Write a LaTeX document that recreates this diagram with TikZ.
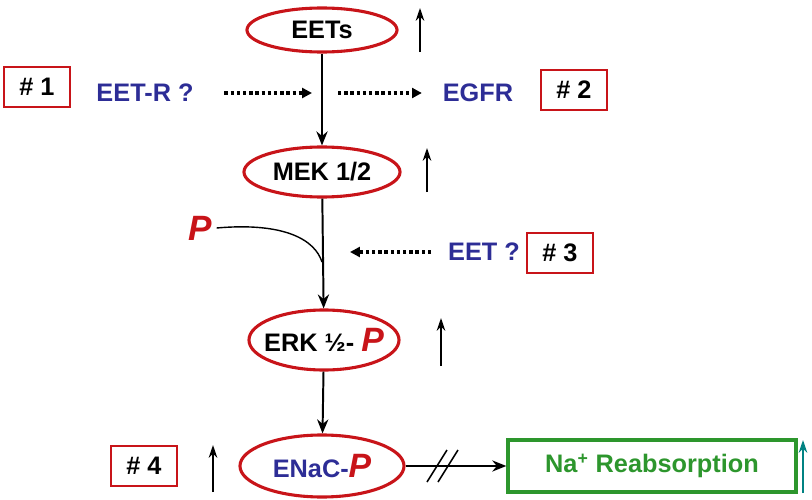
\documentclass[tikz,border=0pt]{standalone}
\usepackage{fontspec}
\setmainfont{Liberation Sans}
\usetikzlibrary{shapes.geometric,arrows.meta}

\definecolor{ovalred}{RGB}{200,20,25}
\definecolor{protblue}{RGB}{45,45,150}
\definecolor{naGreen}{RGB}{45,150,45}
\definecolor{tealup}{RGB}{0,130,130}

\tikzset{
  oval/.style={ellipse, draw=ovalred, line width=2.2pt, inner sep=0pt},
  numbox/.style={rectangle, draw=ovalred, line width=1.8pt, minimum width=1.65cm, minimum height=1cm},
  flow/.style={-{Stealth[length=10pt,width=8pt]}, line width=1.4pt},
  up/.style={-{Stealth[length=9pt,width=6pt]}, line width=1.2pt},
  guess/.style={-{Triangle[length=7pt,width=7pt]}, line width=2.4pt, dotted},
  lbl/.style={font=\fontsize{18}{21}\selectfont\bfseries}
}
\newcommand{\phos}{\textcolor{ovalred}{\itshape P}}

\begin{document}
\begin{tikzpicture}[x=0.025cm, y=-0.025cm]
  \useasboundingbox (0,0) rectangle (812,500);

  % pathway ovals
  \node[oval, lbl, minimum width=3.75cm, minimum height=1.1cm] (eets) at (322, 30) {EETs};
  \node[oval, lbl, minimum width=3.9cm, minimum height=1.25cm] (mek) at (322, 172) {MEK 1/2};
  \node[oval, lbl, inner xsep=-9pt, minimum width=3.75cm, minimum height=1.5cm] (erk) at (324, 340) {ERK \textonehalf- {\fontsize{24}{26}\selectfont\phos}};
  \node[oval, lbl, minimum width=4.1cm, minimum height=1.55cm] (enac) at (322, 466) {\textcolor{protblue}{ENaC-}{\fontsize{24}{26}\selectfont\phos}};

  % numbered boxes
  \node[numbox, lbl] (n1) at (37, 87) {\# 1};
  \node[numbox, lbl] (n2) at (574, 90) {\# 2};
  \node[numbox, lbl] (n3) at (560, 253) {\# 3};
  \node[numbox, lbl] (n4) at (144, 466) {\# 4};

  % side labels
  \node[lbl, text=protblue] (eetr) at (145, 93) {EET-R ?};
  \node[lbl, text=protblue] (egfr) at (478, 93) {EGFR};
  \node[lbl, text=protblue] (eetq) at (484, 252) {EET ?};
  \node[text=ovalred, font=\fontsize{25}{27}\selectfont\bfseries\itshape] (pin) at (200, 228) {P};
  \node[rectangle, draw=naGreen, line width=2.4pt, minimum width=7.2cm, minimum height=1.3cm,
        lbl, text=naGreen] (na) at (652, 466) {Na\textsuperscript{+} Reabsorption};

  % main cascade
  \draw[flow] (eets) -- (mek);
  \draw[flow] (mek) -- (erk);
  \draw[flow] (erk) -- (enac);
  \coordinate (jn1) at (322, 93);
  \coordinate (jn2) at (322, 262);
  \draw[line width=1pt] (pin.east) .. controls (285, 222) and (315, 240) .. (jn2);

  % dotted inputs
  \draw[guess] (eetr.east) ++(26,0) -- ([xshift=-0.25cm]jn1);
  \draw[guess] ([xshift=0.4cm]jn1) -- ([xshift=-0.4cm]egfr.west);
  \draw[guess] ([xshift=-0.3cm]eetq.west) -- ([xshift=0.7cm]jn2 |- eetq);

  % blocked arrow
  \draw[flow, line width=1.1pt] (enac) -- (na);
  \draw[line width=1.1pt] (427, 482) -- (447, 450);
  \draw[line width=1.1pt] (438, 482) -- (458, 450);

  % up arrows
  \draw[up] (420, 52) -- (420, 8);
  \draw[up] (427, 192) -- (427, 148);
  \draw[up] (441, 366) -- (441, 318);
  \draw[up] (213, 492) -- (213, 445);
  \draw[up, tealup] (803, 493) -- (803, 440);
\end{tikzpicture}
\end{document}
